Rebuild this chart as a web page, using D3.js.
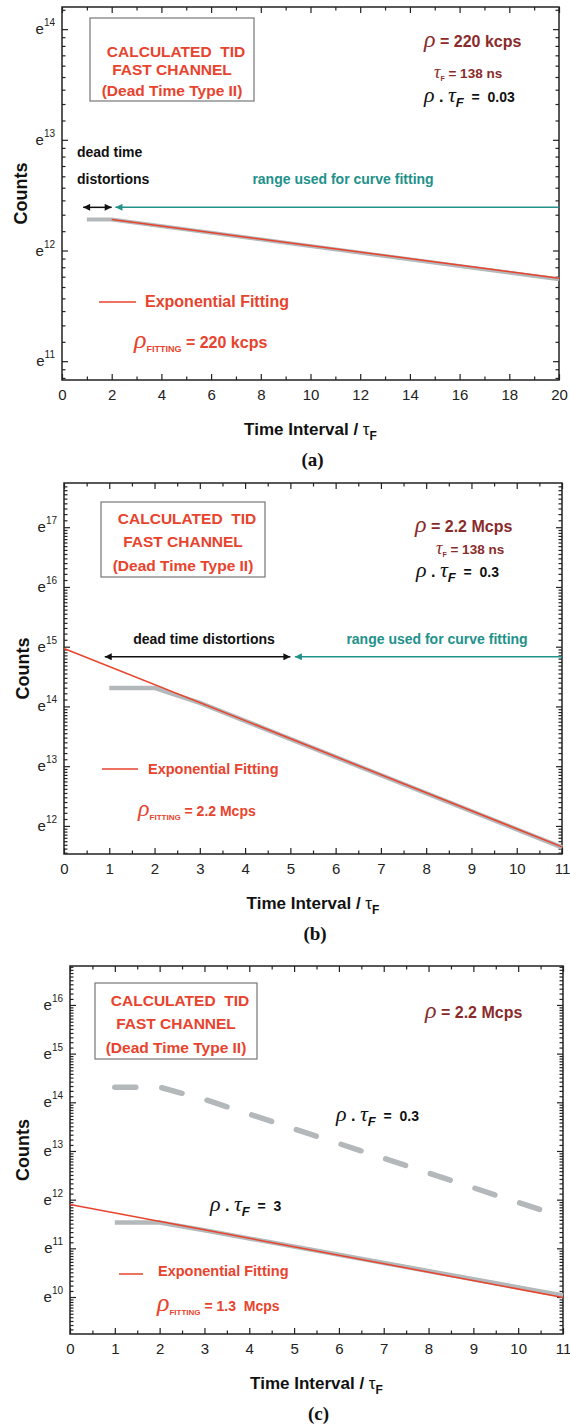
<!DOCTYPE html>
<html>
<head>
<meta charset="utf-8">
<script src="https://cdn.jsdelivr.net/npm/d3@7"></script>
<style>
  body { margin: 0; background: #fff; }
  text { white-space: pre; }
</style>
</head>
<body>
<script>
// values are ln(Counts), x in units of tau_F

// (a) rho = 220 kcps
const aXTicks = [0, 2, 4, 6, 8, 10, 12, 14, 16, 18, 20];
const aXMinor = [1, 3, 5, 7, 9, 11, 13, 15, 17, 19];
const aYExp = [11, 12, 13, 14];
const aCalcX = [1, 2, 20];
const aCalc = [12.28, 12.28, 11.74];
const aFitX = [2, 20];
const aFit = [12.28, 11.75];

// (b) rho = 2.2 Mcps
const bXTicks = [0, 1, 2, 3, 4, 5, 6, 7, 8, 9, 10, 11];
const bXMinor = [0.5, 1.5, 2.5, 3.5, 4.5, 5.5, 6.5, 7.5, 8.5, 9.5, 10.5];
const bYExp = [12, 13, 14, 15, 16, 17];
const bCalcX = [1, 2, 3, 11];
const bCalc = [14.31, 14.31, 14.06, 11.64];
const bFitX = [0, 11];
const bFit = [14.97, 11.65];

// (c) two rho.tau values
const cXTicks = [0, 1, 2, 3, 4, 5, 6, 7, 8, 9, 10, 11];
const cXMinor = [0.5, 1.5, 2.5, 3.5, 4.5, 5.5, 6.5, 7.5, 8.5, 9.5, 10.5];
const cYExp = [10, 11, 12, 13, 14, 15, 16];
const cCalc03X = [1, 2, 3, 11];
const cCalc03 = [14.31, 14.31, 14.06, 11.64];
const cCalc3X = [1, 2, 3, 11];
const cCalc3 = [11.53, 11.53, 11.37, 10.03];
const cFitX = [0, 11];
const cFit = [11.9, 9.99];

const SANS = "'Liberation Sans', Arial, Helvetica, sans-serif";
const SERIF = "'Liberation Serif', 'Times New Roman', serif";
const RED = "#e8432d", DARKRED = "#8a2b2b", TEAL = "#21918a", GRAY = "#b3b8ba", INK = "#222";

const svg = d3.select("body").append("svg")
  .attr("width", 570).attr("height", 1425)
  .attr("font-family", SANS);

const defs = svg.append("defs");
[["ahBlack", "#111"], ["ahTeal", TEAL]].forEach(([id, c]) => {
  defs.append("marker").attr("id", id)
    .attr("viewBox", "0 0 10 10").attr("refX", 10).attr("refY", 5)
    .attr("markerWidth", 9).attr("markerHeight", 7)
    .attr("markerUnits", "userSpaceOnUse")
    .attr("orient", "auto-start-reverse")
    .append("path").attr("d", "M0,0L10,5L0,10z").attr("fill", c);
});

// text with mixed fonts / subscripts
function rich(x, y, parts, fill, anchor) {
  const t = svg.append("text").attr("x", x).attr("y", y)
    .attr("fill", fill).attr("font-weight", "bold")
    .attr("text-anchor", anchor || "start");
  let cur = 0;
  parts.forEach(p => {
    const s = t.append("tspan").text(p.t).attr("font-size", p.s);
    if (p.f) s.attr("font-family", p.f).attr("font-weight", "normal");
    if (p.i) s.attr("font-style", "italic");
    const sh = p.sub || 0;
    if (sh !== cur) s.attr("dy", sh - cur);
    cur = sh;
  });
  return t;
}

function panel(p) {
  const x = d3.scaleLinear().domain(p.xDom).range([p.left, p.right]);
  const y = d3.scaleLog().base(Math.E).domain(p.yDom.map(Math.exp)).range([p.bottom, p.top]);
  const g = svg.append("g");

  // minor y ticks: linear steps inside each e-decade
  const minor = [];
  for (let n = Math.floor(p.yDom[0]); n <= Math.ceil(p.yDom[1]); n++) {
    for (let k = 1; k < p.nMinor; k++) {
      const v = Math.exp(n) * (1 + k * (Math.E - 1) / p.nMinor);
      if (Math.log(v) > p.yDom[0] && Math.log(v) < p.yDom[1]) minor.push(v);
    }
  }
  const major = p.yExp.map(Math.exp);
  const clean = sel => sel.call(s => s.select(".domain").remove())
    .call(s => s.selectAll("line").attr("stroke", INK).attr("stroke-width", 1.2));

  g.append("g").attr("transform", `translate(0,${p.bottom})`)
    .call(d3.axisBottom(x).tickValues(p.xTicks).tickSizeInner(-6).tickSizeOuter(0).tickPadding(9))
    .call(clean)
    .call(s => s.selectAll("text").attr("font-size", 15).attr("fill", INK).attr("font-family", SANS));
  g.append("g").attr("transform", `translate(0,${p.bottom})`)
    .call(d3.axisBottom(x).tickValues(p.xMinor).tickSize(-3.5).tickFormat("")).call(clean);
  g.append("g").attr("transform", `translate(0,${p.top})`)
    .call(d3.axisTop(x).tickValues(p.xTicks).tickSize(-6).tickFormat("")).call(clean);
  g.append("g").attr("transform", `translate(0,${p.top})`)
    .call(d3.axisTop(x).tickValues(p.xMinor).tickSize(-3.5).tickFormat("")).call(clean);
  g.append("g").attr("transform", `translate(${p.left},0)`)
    .call(d3.axisLeft(y).tickValues(major).tickSize(-6).tickFormat("")).call(clean);
  g.append("g").attr("transform", `translate(${p.left},0)`)
    .call(d3.axisLeft(y).tickValues(minor).tickSize(-3.5).tickFormat("")).call(clean);
  g.append("g").attr("transform", `translate(${p.right},0)`)
    .call(d3.axisRight(y).tickValues(major).tickSize(-6).tickFormat("")).call(clean);
  g.append("g").attr("transform", `translate(${p.right},0)`)
    .call(d3.axisRight(y).tickValues(minor).tickSize(-3.5).tickFormat("")).call(clean);

  // e^n labels
  g.selectAll(".ylab").data(p.yExp).join("text")
    .attr("class", "ylab")
    .attr("x", p.left - 7).attr("y", d => y(Math.exp(d)) + 5)
    .attr("text-anchor", "end").attr("fill", INK)
    .each(function (d) {
      const t = d3.select(this);
      t.append("tspan").attr("font-size", 15).text("e");
      t.append("tspan").attr("font-size", 10).attr("dy", -8).text(d);
    });

  g.append("rect")
    .attr("x", p.left).attr("y", p.top)
    .attr("width", p.right - p.left).attr("height", p.bottom - p.top)
    .attr("fill", "none").attr("stroke", INK).attr("stroke-width", 1.5);

  const line = d3.line().x(d => x(d[0])).y(d => y(Math.exp(d[1])));
  p.calc.forEach(c => {
    g.append("path").datum(c.pts).attr("d", line)
      .attr("fill", "none").attr("stroke", GRAY).attr("stroke-width", c.w)
      .attr("stroke-linecap", c.dash ? "round" : "butt")
      .attr("stroke-dasharray", c.dash || null);
  });
  g.append("path").datum(p.fit).attr("d", line)
    .attr("fill", "none").attr("stroke", RED).attr("stroke-width", 1.5);

  (p.arrows || []).forEach(a => {
    g.append("line")
      .attr("x1", x(a.x[0])).attr("x2", x(a.x[1]))
      .attr("y1", y(Math.exp(a.y))).attr("y2", y(Math.exp(a.y)))
      .attr("stroke", a.c).attr("stroke-width", 1.5)
      .attr("marker-start", a.both ? `url(#${a.m})` : null)
      .attr("marker-end", `url(#${a.m})`);
  });

  // axis titles
  svg.append("text")
    .attr("transform", `translate(${p.countsX},${(p.top + p.bottom) / 2}) rotate(-90)`)
    .attr("text-anchor", "middle").attr("font-size", 18).attr("font-weight", "bold")
    .attr("fill", "#111").text("Counts");
  rich((p.left + p.right) / 2, p.bottom + 55, [
    { t: "Time Interval / ", s: 17 },
    { t: "τ", s: 17, f: SANS },
    { t: "F", s: 12, sub: 5 }
  ], "#111", "middle");
  svg.append("text")
    .attr("x", (p.left + p.right) / 2 + 2).attr("y", p.bottom + 86)
    .attr("text-anchor", "middle").attr("font-family", SERIF)
    .attr("font-weight", "bold").attr("font-size", 19).attr("fill", "#111")
    .text(p.label);

  // title box
  svg.append("rect").attr("x", p.box[0]).attr("y", p.box[1])
    .attr("width", p.box[2] - p.box[0]).attr("height", p.box[3] - p.box[1])
    .attr("fill", "none").attr("stroke", "#777").attr("stroke-width", 1.2);
  const bx = (p.box[0] + p.box[2]) / 2;
  ["CALCULATED  TID", "FAST CHANNEL", "(Dead Time Type II)"].forEach((s, i) => {
    svg.append("text").attr("x", bx + (i === 0 ? 4 : 0)).attr("y", p.boxBase[i])
      .attr("text-anchor", "middle").attr("font-weight", "bold")
      .attr("font-size", p.boxFont).attr("fill", RED).text(s);
  });

  // legend
  svg.append("line").attr("x1", p.leg[0]).attr("x2", p.leg[1])
    .attr("y1", p.leg[2]).attr("y2", p.leg[2])
    .attr("stroke", RED).attr("stroke-width", 1.5);
  svg.append("text").attr("x", p.leg[3]).attr("y", p.leg[4])
    .attr("font-weight", "bold").attr("font-size", p.legFont).attr("fill", RED)
    .text("Exponential Fitting");
}

panel({
  left: 62, right: 559, top: 7, bottom: 380,
  xDom: [0, 20], yDom: [10.83, 14.2], nMinor: 9,
  xTicks: aXTicks, xMinor: aXMinor, yExp: aYExp,
  calc: [{ pts: d3.zip(aCalcX, aCalc), w: 4 }],
  fit: d3.zip(aFitX, aFit),
  arrows: [
    { x: [0.85, 2.0], y: 12.39, c: "#111", m: "ahBlack", both: true },
    { x: [20, 2.15], y: 12.39, c: TEAL, m: "ahTeal" }
  ],
  countsX: 27, label: "(a)",
  box: [90, 18, 254, 101], boxBase: [57, 75, 96], boxFont: 15.5,
  leg: [99, 136, 302, 145, 307], legFont: 16
});

panel({
  left: 64, right: 562, top: 483, bottom: 854,
  xDom: [0, 11], yDom: [11.53, 17.74], nMinor: 14,
  xTicks: bXTicks, xMinor: bXMinor, yExp: bYExp,
  calc: [{ pts: d3.zip(bCalcX, bCalc), w: 4.5 }],
  fit: d3.zip(bFitX, bFit),
  arrows: [
    { x: [0.9, 5.0], y: 14.83, c: "#111", m: "ahBlack", both: true },
    { x: [11, 5.1], y: 14.83, c: TEAL, m: "ahTeal" }
  ],
  countsX: 29, label: "(b)",
  box: [101, 502, 265, 577], boxBase: [524, 547, 571], boxFont: 15.5,
  leg: [102, 138, 769, 148, 774], legFont: 14.5
});

panel({
  left: 70, right: 563, top: 966, bottom: 1334,
  xDom: [0, 11], yDom: [9.24, 16.8], nMinor: 13,
  xTicks: cXTicks, xMinor: cXMinor, yExp: cYExp,
  calc: [
    { pts: d3.zip(cCalc03X, cCalc03), w: 5.5, dash: "21,26" },
    { pts: d3.zip(cCalc3X, cCalc3), w: 4.5 }
  ],
  fit: d3.zip(cFitX, cFit),
  countsX: 29, label: "(c)",
  box: [95, 983, 257, 1059], boxBase: [1006, 1029, 1053], boxFont: 15.5,
  leg: [119, 143, 1274, 158, 1276], legFont: 14.5
});

// annotations
const rho = s => ({ t: "ρ", s: s, f: SERIF, i: 1 });
const tau = s => ({ t: "τ", s: s, f: SERIF, i: 1 });

// (a)
rich(424, 47, [rho(24), { t: " = 220 kcps", s: 16 }], DARKRED);
rich(434, 78, [tau(18), { t: "F", s: 7, sub: 3 }, { t: " = 138 ns", s: 13.5, sub: 0 }], DARKRED);
rich(424, 102, [rho(22), { t: " . ", s: 16 }, tau(22), { t: "F", s: 13, i: 1, sub: 5 }, { t: "  =  0.03", s: 14, sub: 0 }], "#111");
rich(77, 157, [{ t: "dead time", s: 14 }], "#111");
rich(77, 184, [{ t: "distortions", s: 14 }], "#111");
rich(343, 184, [{ t: "range used for curve fitting", s: 14 }], TEAL, "middle");
rich(134, 348, [rho(26), { t: "FITTING", s: 9, sub: 4 }, { t: " = 220 kcps", s: 16, sub: 0 }], RED);

// (b)
rich(415, 532, [rho(24), { t: " = 2.2 Mcps", s: 16 }], DARKRED);
rich(436, 554, [tau(18), { t: "F", s: 7, sub: 3 }, { t: " = 138 ns", s: 13.5, sub: 0 }], DARKRED);
rich(416, 577, [rho(22), { t: " . ", s: 16 }, tau(22), { t: "F", s: 13, i: 1, sub: 5 }, { t: "  =  0.3", s: 14, sub: 0 }], "#111");
rich(204, 644, [{ t: "dead time distortions", s: 14 }], "#111", "middle");
rich(437, 644, [{ t: "range used for curve fitting", s: 14 }], TEAL, "middle");
rich(138, 816, [rho(24), { t: "FITTING", s: 8, sub: 4 }, { t: " = 2.2 Mcps", s: 14, sub: 0 }], RED);

// (c)
rich(425, 1018, [rho(24), { t: " = 2.2 Mcps", s: 16 }], DARKRED);
rich(336, 1121, [rho(22), { t: " . ", s: 16 }, tau(22), { t: "F", s: 13, i: 1, sub: 5 }, { t: "  =  0.3", s: 14, sub: 0 }], "#111");
rich(210, 1211, [rho(22), { t: " . ", s: 16 }, tau(22), { t: "F", s: 13, i: 1, sub: 5 }, { t: "  =  3", s: 14, sub: 0 }], "#111");
rich(157, 1311, [rho(26), { t: "FITTING", s: 8, sub: 4 }, { t: " = 1.3  Mcps", s: 14, sub: 0 }], RED);
</script>
</body>
</html>
